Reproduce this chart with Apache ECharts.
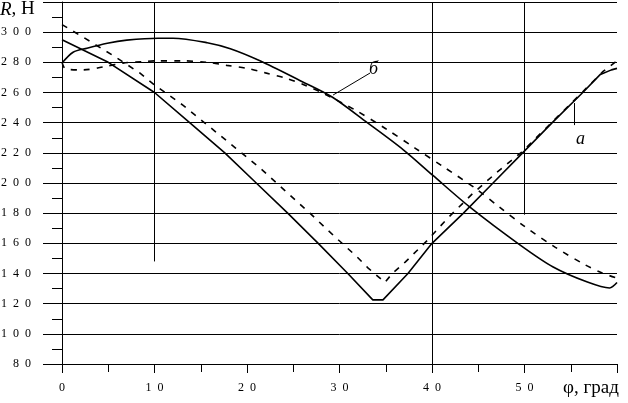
<!DOCTYPE html>
<html><head><meta charset="utf-8">
<script src="https://cdn.jsdelivr.net/npm/echarts@6/dist/echarts.min.js"></script>
<style>html,body{margin:0;padding:0;background:#fff}#c{width:628px;height:403px}</style>
</head><body><div id="c"></div>
<script>
// Axis settings (values)
const xMin = 0, xMax = 60, xStep = 10;
const yMin = 80, yMax = 320, yStep = 20;

// Curve data [phi (deg), R (N)]
const solidV = [[0,295],[5,280],[10,260],[13.8,240],[17.6,220],[21,200],[24.4,180],[27.7,160],[30.9,140],[33.6,122.5],[34.7,122.5],[37.4,140],[40,160],[43.4,180],[46.6,200],[49.8,220],[53,240],[56.3,260],[58.2,272],[59.4,275],[60,276]];
const dashedV = [[0,305],[2.2,297],[5.4,285],[8.4,273],[10,265],[13.1,251.5],[16,237],[18.8,223],[21.4,210],[24.1,195],[26.8,180],[29.3,165.5],[31.9,151],[33.1,143.6],[34.6,135.7],[34.9,134],[35.7,140],[37.1,147.5],[39.5,162],[41.7,176.7],[44.4,193],[47,207],[49.7,220.5],[53,240.5],[56.3,260.5],[58.5,274],[60,281]];
const solidArch = [[0,279.5],[1.2,286.7],[2.7,289.4],[4.9,292.7],[7,294.7],[10.4,296],[12,296],[15.7,293],[18.2,289],[21.4,281],[25.7,268],[29.2,257],[33,240],[36.9,222],[40.1,205],[44.1,184],[49.5,159],[53.1,144.3],[56.8,134.3],[59.2,130.4],[60,134]];
const dashedArch = [[0,280],[0.4,275.5],[2.3,275],[4.5,277],[6.6,279.5],[8.8,280.5],[10,281],[13,281],[15.7,280],[17.8,278],[20,276],[22,273],[24.2,269.5],[26.2,265],[28.2,259.6],[31.8,248],[35,236],[38.2,223],[41.3,210.5],[44.5,197.3],[47.3,184],[50.1,170.8],[53.3,157.5],[56.6,145.6],[58.4,140.3],[60,137]];

// Reference vertical lines [phi, Rfrom, Rto]
const vLines = [[10,148,320],[40,80,320],[50,179,320]];
// Leader lines for curve labels
const leaders = [[[29.3,258.3],[33.3,272.9]],[[55.35,253],[55.35,238.4]]];

const serif = '"Liberation Serif","Times New Roman",serif';
const spaced = v => String(v).split('').join('\u2002');

const chart = echarts.init(document.getElementById('c'), null, {renderer:'canvas'});
const lineBase = {type:'line', showSymbol:false, symbol:'none', silent:true, animation:false, z:3};
chart.setOption({
  animation:false,
  backgroundColor:'#fff',
  grid:{left:62, right:11, top:2, bottom:39, containLabel:false, outerBoundsMode:'none'},
  xAxis:{
    type:'value', min:xMin, max:xMax, interval:xStep,
    axisLine:{show:true, lineStyle:{color:'#000', width:1}},
    axisTick:{show:true, inside:false, length:9, lineStyle:{color:'#000'}},
    minorTick:{show:true, splitNumber:2, length:8, lineStyle:{color:'#000'}},
    splitLine:{show:false},
    axisLabel:{color:'#000', fontFamily:serif, fontSize:12, margin:18,
      formatter:v => v===xMax ? '' : spaced(v)}
  },
  yAxis:{
    type:'value', min:yMin, max:yMax, interval:yStep,
    axisLine:{show:true, lineStyle:{color:'#000', width:1}},
    axisTick:{show:true, inside:false, length:19, lineStyle:{color:'#000'}},
    minorTick:{show:true, splitNumber:2, length:10, lineStyle:{color:'#000'}},
    splitLine:{show:true, lineStyle:{color:'#000', width:1}},
    axisLabel:{color:'#000', fontFamily:serif, fontSize:12, margin:31,
      formatter:v => v===yMax ? '' : spaced(v)}
  },
  series:[
    Object.assign({}, lineBase, {data:solidArch, smooth:0.3, lineStyle:{color:'#000', width:1.6}}),
    Object.assign({}, lineBase, {data:dashedArch, smooth:0.3, lineStyle:{color:'#000', width:1.6, type:[6,7]}}),
    Object.assign({}, lineBase, {data:solidV, lineStyle:{color:'#000', width:1.6}}),
    Object.assign({}, lineBase, {data:dashedV, lineStyle:{color:'#000', width:1.6, type:[6,7]}}),
    Object.assign({}, lineBase, {data:[], markLine:{silent:true, symbol:['none','none'], animation:false,
      label:{show:false}, lineStyle:{color:'#000', width:1, type:'solid'},
      data: vLines.map(d => [{coord:[d[0],d[1]]},{coord:[d[0],d[2]]}])
        .concat(leaders.map(l => [{coord:l[0]},{coord:l[1]}]))
    }})
  ],
  graphic:[
    {type:'text', left:0, top:0, style:{text:'{i|R}, Н', rich:{i:{fontStyle:'italic', fontFamily:serif, fontSize:19, fill:'#000'}}, font:'19px '+serif, fill:'#000'}},
    {type:'text', left:563, top:379, style:{text:'φ, град', font:'19px '+serif, fill:'#000'}},
    {type:'text', left:369, top:60, style:{text:'б', font:'italic 18px '+serif, fill:'#000'}},
    {type:'text', left:576, top:130, style:{text:'a', font:'italic 18px '+serif, fill:'#000'}}
  ]
});
</script></body></html>
